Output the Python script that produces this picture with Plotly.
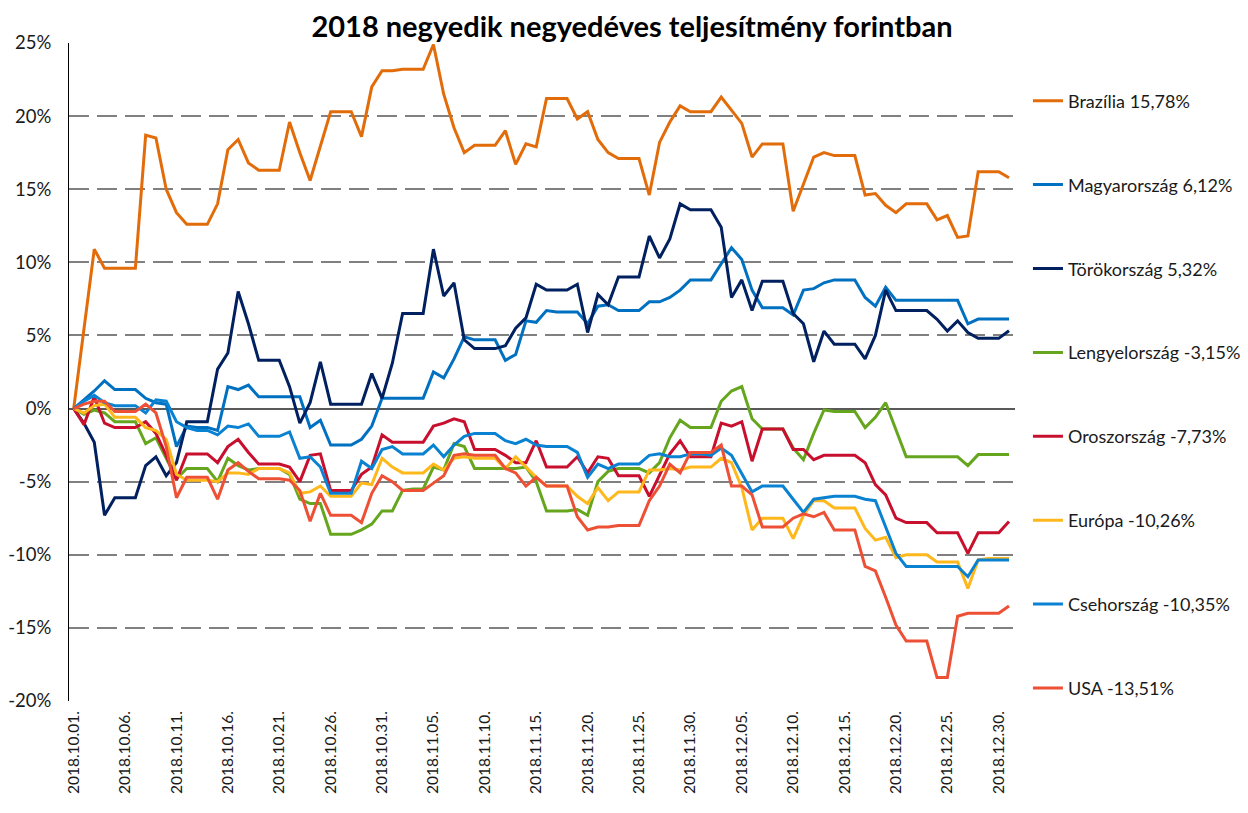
import datetime as dt
import plotly.graph_objects as go

start = dt.date(2018, 10, 1)
dates = [start + dt.timedelta(days=i) for i in range(92)]

brazil = [0, 5.4, 10.9, 9.6, 9.6, 9.6, 9.6, 18.7, 18.5, 15.0, 13.4, 12.6, 12.6, 12.6, 14.0, 17.7,
          18.4, 16.8, 16.3, 16.3, 16.3, 19.6, 17.5, 15.6, 18.0, 20.3, 20.3, 20.3, 18.6, 22.0, 23.1,
          23.1, 23.2, 23.2, 23.2, 24.9, 21.5, 19.2, 17.5, 18.0, 18.0, 18.0, 19.0, 16.7, 18.1, 17.9,
          21.2, 21.2, 21.2, 19.8, 20.3, 18.4, 17.5, 17.1, 17.1, 17.1, 14.6, 18.2, 19.6, 20.7, 20.3,
          20.3, 20.3, 21.3, 20.4, 19.5, 17.2, 18.1, 18.1, 18.1, 13.5, 15.3, 17.2, 17.5, 17.3, 17.3,
          17.3, 14.6, 14.7, 13.9, 13.4, 14.0, 14.0, 14.0, 12.9, 13.2, 11.7, 11.8, 16.2, 16.2, 16.2,
          15.78]
hungary = [0, 0.6, 1.2, 1.9, 1.3, 1.3, 1.3, 0.7, 0.4, 0.3, -2.6, -1.2, -1.3, -1.3, -1.5, 1.5,
           1.3, 1.6, 0.8, 0.8, 0.8, 0.8, 0.8, -1.3, -0.8, -2.5, -2.5, -2.5, -2.1, -1.2, 0.7,
           0.7, 0.7, 0.7, 0.7, 2.5, 2.1, 3.4, 4.9, 4.7, 4.7, 4.7, 3.3, 3.7, 6.0, 5.9,
           6.7, 6.6, 6.6, 6.6, 5.8, 7.0, 7.1, 6.7, 6.7, 6.7, 7.3, 7.3, 7.6, 8.1, 8.8,
           8.8, 8.8, 9.9, 11.0, 10.2, 8.1, 6.9, 6.9, 6.9, 6.4, 8.1, 8.2, 8.6, 8.8, 8.8,
           8.8, 7.6, 7.0, 8.3, 7.4, 7.4, 7.4, 7.4, 7.4, 7.4, 7.4, 5.8, 6.12, 6.12, 6.12,
           6.12]
turkey = [0, -1.0, -2.3, -7.3, -6.1, -6.1, -6.1, -3.9, -3.3, -4.6, -3.7, -0.9, -0.9, -0.9, 2.7, 3.8,
          8.0, 5.8, 3.3, 3.3, 3.3, 1.5, -1.0, 0.4, 3.2, 0.3, 0.3, 0.3, 0.3, 2.4, 0.7,
          3.1, 6.5, 6.5, 6.5, 10.9, 7.7, 8.6, 4.7, 4.1, 4.1, 4.1, 4.3, 5.5, 6.2, 8.5,
          8.1, 8.1, 8.1, 8.5, 5.2, 7.8, 7.1, 9.0, 9.0, 9.0, 11.8, 10.3, 11.6, 14.0, 13.6,
          13.6, 13.6, 12.4, 7.6, 8.8, 6.7, 8.7, 8.7, 8.7, 6.5, 5.8, 3.2, 5.3, 4.4, 4.4,
          4.4, 3.4, 5.0, 8.1, 6.7, 6.7, 6.7, 6.7, 6.1, 5.3, 6.0, 5.2, 4.8, 4.8, 4.8,
          5.32]
poland = [0, -0.4, -0.1, -0.3, -0.9, -0.9, -0.9, -2.4, -2.0, -3.4, -4.8, -4.1, -4.1, -4.1, -5.0, -3.4,
          -3.9, -4.2, -4.1, -4.1, -4.1, -4.5, -6.2, -6.5, -6.5, -8.6, -8.6, -8.6, -8.3, -7.9, -7.0,
          -7.0, -5.6, -5.5, -5.5, -4.0, -4.2, -2.4, -2.6, -4.1, -4.1, -4.1, -4.1, -4.1, -4.0, -5.0,
          -7.0, -7.0, -7.0, -6.9, -7.3, -5.0, -4.3, -4.1, -4.1, -4.1, -4.4, -3.7, -2.0, -0.8, -1.3,
          -1.3, -1.3, 0.5, 1.2, 1.5, -0.7, -1.4, -1.4, -1.4, -2.7, -3.5, -1.7, -0.1, -0.2, -0.2,
          -0.2, -1.3, -0.6, 0.4, -1.5, -3.3, -3.3, -3.3, -3.3, -3.3, -3.3, -3.9, -3.15, -3.15, -3.15,
          -3.15]
russia = [0, -1.1, 0.8, -1.0, -1.3, -1.3, -1.3, -0.9, -1.7, -3.2, -4.9, -3.1, -3.1, -3.1, -3.7, -2.6,
          -2.1, -3.0, -3.8, -3.8, -3.8, -4.0, -5.0, -3.2, -3.1, -5.6, -5.6, -5.6, -4.5, -4.0, -1.8,
          -2.3, -2.3, -2.3, -2.3, -1.2, -1.0, -0.7, -0.9, -2.8, -2.8, -2.8, -3.2, -3.7, -3.7, -2.2,
          -4.0, -4.0, -4.0, -3.3, -4.4, -3.3, -3.4, -4.6, -4.6, -4.6, -6.0, -4.5, -3.1, -2.2, -3.3,
          -3.3, -3.3, -1.0, -1.2, -0.9, -3.6, -1.4, -1.4, -1.4, -2.8, -2.8, -3.5, -3.2, -3.2, -3.2,
          -3.2, -3.7, -5.2, -5.9, -7.5, -7.8, -7.8, -7.8, -8.5, -8.5, -8.5, -9.9, -8.5, -8.5, -8.5,
          -7.73]
europe = [0, -0.3, 0.2, 0.3, -0.6, -0.6, -0.6, -1.3, -1.5, -2.1, -4.5, -4.9, -4.9, -4.9, -5.0, -4.4,
          -4.4, -4.5, -4.1, -4.1, -4.1, -4.4, -5.8, -5.7, -5.3, -6.0, -6.0, -6.0, -5.1, -5.2, -3.4,
          -4.0, -4.4, -4.4, -4.4, -3.8, -4.2, -3.4, -3.3, -3.4, -3.4, -3.4, -4.1, -3.3, -4.0, -4.7,
          -5.3, -5.3, -5.3, -6.0, -6.5, -5.4, -6.3, -5.7, -5.7, -5.7, -4.2, -4.2, -4.1, -4.2, -4.0,
          -4.0, -4.0, -3.4, -3.7, -5.4, -8.3, -7.5, -7.5, -7.5, -8.9, -7.3, -6.3, -6.3, -6.8, -6.8,
          -6.8, -8.2, -9.0, -8.8, -10.2, -10.0, -10.0, -10.0, -10.5, -10.5, -10.5, -12.3, -10.35, -10.26, -10.26,
          -10.26]
czech = [0, 0.5, 0.9, 0.4, 0.2, 0.2, 0.2, -0.3, 0.6, 0.5, -0.9, -1.3, -1.5, -1.5, -1.8, -1.2,
         -1.3, -1.05, -1.9, -1.9, -1.9, -1.6, -3.4, -3.3, -4.0, -5.8, -5.8, -5.8, -3.6, -4.1, -2.8,
         -2.6, -3.1, -3.1, -3.1, -2.5, -3.3, -2.5, -1.9, -1.7, -1.7, -1.7, -2.2, -2.4, -2.1, -2.5,
         -2.6, -2.6, -2.6, -3.0, -4.7, -3.8, -4.1, -3.8, -3.8, -3.8, -3.2, -3.1, -3.3, -3.3, -3.1,
         -3.1, -3.2, -2.7, -3.2, -4.5, -5.7, -5.3, -5.3, -5.3, -6.2, -7.1, -6.2, -6.1, -6.0, -6.0,
         -6.0, -6.2, -6.3, -8.1, -9.9, -10.8, -10.8, -10.8, -10.8, -10.8, -10.8, -11.5, -10.35, -10.35, -10.35,
         -10.35]
usa = [0, 0.3, 0.5, 0.5, -0.2, -0.2, -0.2, 0.3, -0.3, -2.6, -6.1, -4.7, -4.7, -4.7, -6.2, -4.2,
       -3.7, -4.3, -4.8, -4.8, -4.8, -4.9, -5.6, -7.7, -5.8, -7.3, -7.3, -7.3, -7.8, -5.8, -4.6,
       -5.0, -5.6, -5.6, -5.6, -5.1, -4.6, -3.2, -3.1, -3.2, -3.2, -3.2, -4.1, -4.4, -5.3, -4.7,
       -5.3, -5.3, -5.3, -7.4, -8.3, -8.1, -8.1, -8.0, -8.0, -8.0, -6.3, -5.3, -3.8, -4.4, -3.0,
       -3.0, -3.0, -2.5, -5.3, -5.3, -5.9, -8.1, -8.1, -8.1, -7.5, -7.2, -7.4, -7.1, -8.3, -8.3,
       -8.3, -10.8, -11.1, -12.9, -14.8, -15.9, -15.9, -15.9, -18.4, -18.4, -14.2, -14.0, -14.0, -14.0, -14.0,
       -13.51]

names = ["Brazília 15,78%", "Magyarország 6,12%", "Törökország 5,32%", "Lengyelország -3,15%",
         "Oroszország -7,73%", "Európa -10,26%", "Csehország -10,35%", "USA -13,51%"]
series = [brazil, hungary, turkey, poland, russia, europe, czech, usa]
colors = ["#E36C0A", "#0070C0", "#002060", "#66A61E", "#C8102E", "#FFB81C", "#0A82D2", "#EE5035"]

y_ticks = [25, 20, 15, 10, 5, 0, -5, -10, -15, -20]
y_text = [f"{v}%" for v in y_ticks]
x_ticks = [start + dt.timedelta(days=5 * i) for i in range(19)]
x_text = [d.strftime("%Y.%m.%d.") for d in x_ticks]

FONT = "Lato"
fig = go.Figure()
for i, (name, vals, col) in enumerate(zip(names, series, colors)):
    fig.add_trace(go.Scatter(x=dates, y=vals, mode="lines", name=name,
                             legendgroup=f"g{i}",
                             line=dict(color=col, width=3)))

fig.update_layout(
    width=1248, height=813,
    margin=dict(l=61, r=241, t=35, b=120, autoexpand=False),
    paper_bgcolor="white", plot_bgcolor="white",
    font=dict(family=FONT, color="#1a1a1a"),
    title=dict(text="<b>2018 negyedik negyedéves teljesítmény forintban</b>",
               x=0.5, xref="container", xanchor="center",
               y=1 - 19 / 813, yref="container", yanchor="middle",
               font=dict(family=FONT, size=29, color="#000000")),
    showlegend=True,
    legend=dict(x=1.0137, xanchor="left", y=0.94, yanchor="top",
                font=dict(family=FONT, size=18, color="#1a1a1a"),
                tracegroupgap=57.5, itemwidth=30, bgcolor="rgba(0,0,0,0)"),
    xaxis=dict(type="date", automargin=False,
               range=[dt.datetime(2018, 9, 30, 13, 0), dt.datetime(2018, 12, 31, 14, 0)],
               tickmode="array", tickvals=x_ticks, ticktext=x_text, tickangle=-90,
               tickfont=dict(family=FONT, size=15.5, color="#1a1a1a"),
               showgrid=False, showline=False, zeroline=False, ticks="",
               ticklabelstandoff=6),
    yaxis=dict(range=[-20, 25], automargin=False,
               tickmode="array", tickvals=y_ticks, ticktext=y_text,
               tickfont=dict(family=FONT, size=18.5, color="#1a1a1a"),
               showgrid=True, gridcolor="#808080", gridwidth=2, griddash="20px,8px",
               zeroline=True, zerolinecolor="#595959", zerolinewidth=1.75,
               showline=True, linecolor="#000000", linewidth=1, ticks="",
               ticklabelstandoff=13),
)

fig.write_html("out.html")
